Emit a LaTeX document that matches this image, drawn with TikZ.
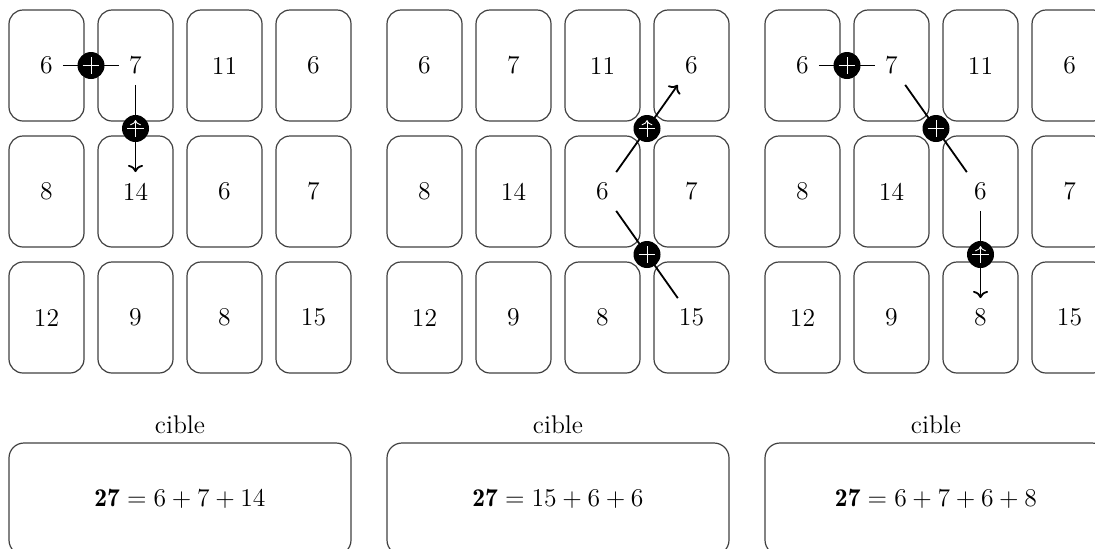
\documentclass[tikz,border=0pt]{standalone}
\usepackage{fix-cm}
\usepackage{amsmath}
\usepackage{fontspec}
\usepackage{tikz}
\usetikzlibrary{arrows.meta,positioning}

\begin{document}
\begin{tikzpicture}[
  x=0.5pt,y=-0.5pt,
  >=To,
  every node/.style={font=\fontsize{12.8pt}{15pt}\selectfont},
  card/.style={draw=black!75,line width=0.6pt,rounded corners=7pt,minimum width=37.5pt,minimum height=55.5pt,inner sep=0pt},
  val/.style={minimum width=16pt,minimum height=19pt,inner sep=0pt},
  target/.style={draw=black!75,line width=0.6pt,rounded corners=7.5pt,minimum width=171pt,minimum height=56pt,inner sep=0pt},
  link/.style={line width=0.9pt},
  plus/.style={circle,fill=black,minimum size=13.5pt,inner sep=0pt,
    path picture={\draw[white,line width=0.45pt]
      ([xshift=-4.2pt]path picture bounding box.center) -- ([xshift=4.2pt]path picture bounding box.center)
      ([yshift=-4.2pt]path picture bounding box.center) -- ([yshift=4.2pt]path picture bounding box.center);}}
]
  \useasboundingbox (0,0) rectangle (1095,548);
  \clip (0,0) rectangle (1095,548);

  % three copies of the same deck
  \foreach \g/\gx in {1/0,2/378,3/756}{
    \foreach \r/\c/\v in {1/1/6,1/2/7,1/3/11,1/4/6,2/1/8,2/2/14,2/3/6,2/4/7,3/1/12,3/2/9,3/3/8,3/4/15}{
      \node[card] (c\g-\r-\c) at ({\gx+46.5+89*(\c-1)},{65.5+126*(\r-1)}) {};
      \node[val] (n\g-\r-\c) at (c\g-\r-\c) {\v};
    }
  }

  % first sum
  \draw[link] (n1-1-1) -- node[plus] (p1a) {} (n1-1-2);
  \draw[link,->] (n1-1-2) -- node[plus] (p1b) {} (n1-2-2);

  % second sum
  \draw[link] (n2-3-4) -- node[plus] (p2a) {} (n2-2-3);
  \draw[link,->] (n2-2-3) -- node[plus] (p2b) {} (n2-1-4);

  % third sum
  \draw[link] (n3-1-1) -- node[plus] (p3a) {} (n3-1-2);
  \draw[link] (n3-1-2) -- node[plus] (p3b) {} (n3-2-3);
  \draw[link,->] (n3-2-3) -- node[plus] (p3c) {} (n3-3-3);

  % targets
  \node[target] (t1) at (180,499) {$\mathbf{27}=6+7+14$};
  \node[target] (t2) at (558,499) {$\mathbf{27}=15+6+6$};
  \node[target] (t3) at (936,499) {$\mathbf{27}=6+7+6+8$};
  \node[above=1pt of t1] (l1) {cible};
  \node[above=1pt of t2] (l2) {cible};
  \node[above=1pt of t3] (l3) {cible};
\end{tikzpicture}
\end{document}
